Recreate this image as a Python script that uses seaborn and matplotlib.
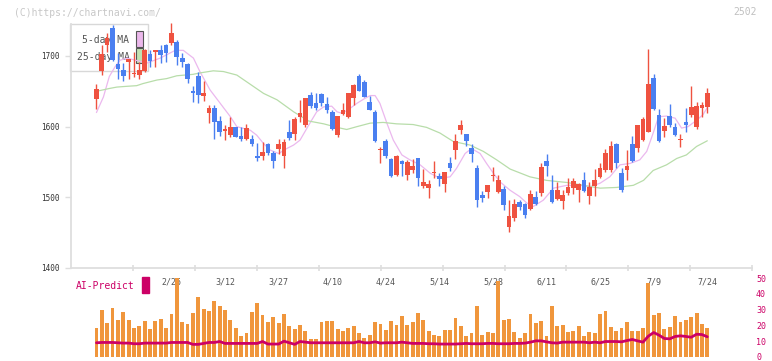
import matplotlib.pyplot as plt
import matplotlib.patches as mpatches
import seaborn as sns
import numpy as np
import pandas as pd

sns.set_theme(style='white')
plt.rcParams['font.family'] = ['DejaVu Sans Mono', 'DejaVu Sans']

# дневные свечи (open / high / low / close)
opens = [1639, 1679, 1716, 1740, 1689, 1680, 1692, 1674, 1673, 1679,
         1703, 1705, 1708, 1716, 1719, 1720, 1697, 1689, 1650, 1671,
         1644, 1620, 1626, 1608, 1594, 1588, 1599, 1587, 1583, 1583,
         1558, 1558, 1576, 1563, 1568, 1558, 1592, 1590, 1613, 1603,
         1645, 1634, 1646, 1632, 1621, 1588, 1618, 1614, 1640, 1671,
         1663, 1635, 1621, 1567, 1579, 1554, 1531, 1552, 1531, 1539,
         1555, 1516, 1513, 1534, 1530, 1519, 1549, 1567, 1595, 1590,
         1570, 1542, 1503, 1507, 1530, 1507, 1512, 1458, 1471, 1493,
         1491, 1483, 1501, 1506, 1552, 1510, 1497, 1495, 1506, 1513,
         1510, 1525, 1502, 1516, 1529, 1538, 1538, 1575, 1534, 1539,
         1575, 1570, 1581, 1593, 1669, 1616, 1594, 1615, 1599, 1581,
         1607, 1616, 1600, 1626, 1628]
highs = [1661, 1716, 1732, 1744, 1704, 1690, 1696, 1706, 1692, 1710,
         1709, 1708, 1716, 1717, 1746, 1723, 1704, 1690, 1657, 1678,
         1665, 1631, 1630, 1615, 1602, 1613, 1600, 1600, 1604, 1588,
         1577, 1579, 1577, 1565, 1582, 1582, 1609, 1614, 1638, 1641,
         1649, 1648, 1647, 1642, 1624, 1615, 1633, 1648, 1660, 1675,
         1666, 1644, 1624, 1571, 1583, 1556, 1560, 1553, 1553, 1554,
         1555, 1540, 1524, 1552, 1534, 1536, 1557, 1590, 1609, 1590,
         1576, 1546, 1509, 1517, 1543, 1531, 1516, 1496, 1497, 1496,
         1492, 1511, 1509, 1549, 1562, 1532, 1522, 1510, 1528, 1528,
         1520, 1536, 1522, 1540, 1549, 1568, 1580, 1577, 1542, 1567,
         1587, 1603, 1614, 1710, 1675, 1625, 1612, 1632, 1605, 1589,
         1626, 1658, 1635, 1635, 1655]
lows = [1625, 1673, 1705, 1693, 1668, 1664, 1668, 1670, 1667, 1677,
        1685, 1685, 1690, 1692, 1715, 1687, 1684, 1662, 1635, 1633,
        1637, 1605, 1582, 1587, 1581, 1586, 1585, 1580, 1581, 1572,
        1552, 1553, 1560, 1542, 1562, 1542, 1581, 1581, 1606, 1600,
        1626, 1623, 1629, 1620, 1595, 1585, 1617, 1612, 1631, 1650,
        1642, 1623, 1578, 1549, 1555, 1529, 1530, 1530, 1524, 1534,
        1516, 1513, 1499, 1527, 1516, 1508, 1537, 1554, 1590, 1572,
        1550, 1487, 1493, 1499, 1523, 1506, 1482, 1451, 1467, 1482,
        1471, 1482, 1489, 1502, 1530, 1492, 1496, 1483, 1504, 1505,
        1493, 1507, 1490, 1502, 1527, 1536, 1536, 1542, 1507, 1525,
        1550, 1564, 1580, 1592, 1624, 1578, 1586, 1599, 1587, 1571,
        1592, 1613, 1597, 1614, 1619]
closes = [1653, 1703, 1726, 1695, 1682, 1672, 1696, 1675, 1680, 1708,
          1693, 1708, 1702, 1704, 1732, 1698, 1691, 1667, 1647, 1645,
          1648, 1627, 1606, 1592, 1597, 1599, 1586, 1583, 1598, 1575,
          1556, 1564, 1563, 1552, 1575, 1578, 1584, 1611, 1620, 1640,
          1629, 1627, 1633, 1623, 1597, 1615, 1623, 1647, 1659, 1651,
          1642, 1624, 1579, 1568, 1558, 1530, 1559, 1547, 1550, 1544,
          1528, 1521, 1519, 1535, 1526, 1536, 1542, 1579, 1603, 1580,
          1561, 1496, 1499, 1517, 1531, 1524, 1489, 1474, 1491, 1487,
          1475, 1505, 1491, 1543, 1544, 1494, 1510, 1504, 1514, 1523,
          1519, 1509, 1515, 1525, 1541, 1563, 1573, 1548, 1511, 1544,
          1552, 1603, 1611, 1660, 1625, 1580, 1601, 1603, 1588, 1582,
          1603, 1628, 1629, 1630, 1648]

# скользящие средние (позиция свечи, цена)
ma5_x = [0, 1.3, 2.4, 3.5, 4.4, 5.7, 9.4, 11.9, 14.7, 16.2,
         18.1, 19.3, 21.2, 23.1, 25, 26.2, 28.7, 29.9, 31.2, 32.4,
         34, 35.5, 36.8, 38, 39.6, 41.1, 42.4, 43.9, 44.9, 45.8,
         47, 48.6, 50.1, 51.1, 52, 52.9, 54.2, 55.4, 57, 58.5,
         60.4, 62.3, 64.1, 66, 67.2, 68.8, 70, 71.6, 72.8, 74.1,
         75.3, 77.2, 79, 80.3, 81.5, 83.4, 85.3, 87.8, 90.2, 92.1,
         94, 95.8, 97.7, 99.6, 101.4, 102.7, 103.9, 104.9, 106.4, 108,
         109.2, 110.4, 112, 113.2, 114]
ma5_y = [1620, 1642, 1671, 1685, 1694, 1697, 1690, 1697, 1708, 1708,
         1697, 1678, 1652, 1633, 1614, 1600, 1595, 1588, 1576, 1567,
         1562, 1569, 1574, 1581, 1602, 1621, 1628, 1629, 1621, 1619,
         1624, 1633, 1640, 1644, 1644, 1633, 1605, 1581, 1560, 1553,
         1546, 1534, 1527, 1529, 1541, 1562, 1569, 1562, 1548, 1534,
         1522, 1510, 1501, 1492, 1487, 1496, 1513, 1517, 1517, 1515,
         1520, 1529, 1546, 1548, 1553, 1565, 1591, 1614, 1615, 1612,
         1598, 1600, 1609, 1617, 1627]
ma25_x = [0, 2.4, 3.8, 5.5, 7.5, 8.7, 11.3, 13.1, 15, 18,
          19.3, 21.8, 23.7, 26.2, 28.7, 31.2, 33.7, 36.8, 39.6, 42.4,
          44.9, 46.7, 48.6, 51.1, 53.5, 56, 59.1, 61.6, 64.1, 66.6,
          69.7, 72.2, 74.7, 77.2, 80.9, 84, 87.8, 90.9, 94, 97.1,
          100.2, 102.1, 103.9, 106.4, 108.3, 110.1, 112, 114]
ma25_y = [1650, 1654, 1656, 1657, 1658, 1661, 1666, 1668, 1672, 1674,
          1676, 1679, 1678, 1673, 1660, 1647, 1638, 1621, 1608, 1604,
          1599, 1596, 1600, 1605, 1606, 1604, 1603, 1599, 1591, 1579,
          1574, 1565, 1553, 1540, 1529, 1524, 1521, 1517, 1513, 1514,
          1517, 1524, 1538, 1546, 1555, 1560, 1572, 1580]

date_labels = ['2/26', '3/12', '3/27', '4/10', '4/24', '5/14',
               '5/28', '6/11', '6/25', '7/9', '7/24']
date_pos = [14, 24, 34, 44, 54, 64, 74, 84, 94, 104, 114]

# AI-Predict: столбцы и линия
ai_bars = [18.6, 29.9, 21.8, 31.2, 23.6, 28.2, 23.6, 18.6, 19.9, 23.0,
           18.0, 23.0, 24.3, 18.6, 27.4, 50.0, 22.4, 21.1, 28.0, 38.1,
           30.5, 29.3, 35.6, 32.4, 29.9, 23.6, 18.6, 13.0, 15.5, 28.7,
           34.3, 26.8, 22.4, 25.5, 21.8, 27.4, 19.9, 18.0, 20.5, 16.7,
           11.1, 11.7, 22.4, 23.0, 23.0, 18.0, 16.7, 18.6, 19.9, 15.5,
           12.3, 14.2, 22.4, 21.1, 17.4, 23.0, 20.5, 26.2, 20.5, 22.4,
           28.0, 23.6, 16.7, 14.2, 13.0, 17.4, 17.4, 24.9, 19.9, 13.0,
           15.5, 32.4, 14.2, 16.1, 14.9, 48.1, 23.6, 24.3, 16.1, 12.3,
           14.9, 27.4, 21.8, 23.0, 13.6, 32.4, 19.9, 20.5, 16.1, 16.7,
           19.9, 13.0, 16.1, 15.5, 27.4, 29.3, 19.2, 16.7, 18.6, 22.4,
           16.7, 16.7, 18.6, 46.9, 26.8, 28.0, 18.0, 19.2, 26.2, 22.4,
           23.6, 25.5, 28.0, 21.1, 18.6]
ai_line = [9.0, 9.2, 9.2, 9.2, 9.0, 8.8, 8.8, 8.4, 8.4, 8.8,
           8.8, 8.8, 8.8, 8.8, 9.2, 9.2, 9.2, 9.2, 8.0, 8.0,
           8.6, 9.2, 9.2, 9.8, 8.6, 8.6, 8.6, 8.6, 8.6, 8.6,
           8.6, 9.8, 8.2, 8.2, 8.2, 10.0, 9.0, 8.0, 9.8, 9.4,
           9.0, 9.0, 9.0, 9.0, 9.0, 9.0, 9.0, 9.0, 9.0, 9.8,
           9.0, 9.0, 9.6, 8.8, 9.0, 9.0, 9.0, 9.4, 9.0, 8.6,
           8.6, 8.6, 8.4, 8.4, 8.2, 8.2, 8.2, 8.2, 8.4, 8.6,
           8.4, 8.4, 8.4, 8.6, 8.6, 8.4, 8.4, 8.4, 8.6, 8.6,
           8.8, 9.4, 10.2, 10.2, 9.6, 9.0, 8.8, 9.4, 9.4, 9.4,
           9.4, 9.4, 9.0, 9.4, 9.0, 9.8, 9.8, 9.8, 9.6, 10.4,
           11.1, 10.2, 9.4, 13.2, 15.5, 13.8, 11.7, 11.5, 13.0, 13.4,
           13.0, 12.5, 14.4, 14.2, 12.8]

RED = '#ef5240'
BLUE = '#4a7ff0'
GRID = '#dedede'
MAGENTA = '#cc0066'

df = pd.DataFrame({'o': opens, 'h': highs, 'l': lows, 'c': closes})
df['i'] = np.arange(len(df))
colors = np.where(df.c >= df.o, RED, BLUE)

W, H = 772, 361
fig = plt.figure(figsize=(W / 100, H / 100), dpi=100)
xlim = (-4.75, 122.4)

ax = fig.add_axes([71 / W, 1 - 268 / H, (752.3 - 71) / W, 253 / H])
ax2 = fig.add_axes([71 / W, 4 / H, (752.3 - 71) / W, 79 / H])

# свечи
ax.vlines(df.i, df.l, df.h, colors=colors, lw=1.0, zorder=3)
body_lo = np.minimum(df.o, df.c)
body_h = np.maximum(np.abs(df.c - df.o), 1.8)
ax.bar(df.i, body_h, bottom=body_lo, width=0.87, color=colors, lw=0, zorder=4)

sns.lineplot(x=ma5_x, y=ma5_y, ax=ax, color='#ebb8ee', lw=0.9, zorder=2, legend=False)
sns.lineplot(x=ma25_x, y=ma25_y, ax=ax, color='#b8ddaa', lw=0.9, zorder=2, legend=False)

ax.set_xlim(*xlim)
ax.set_ylim(1400, 1758)
ax.set_yticks([1400, 1500, 1600, 1700])
ax.set_yticklabels(['1400', '1500', '1600', '1700'], fontsize=5.5, color='#333333')
ax.set_xticks(np.linspace(xlim[0], xlim[1], 12)[1:])
ax.set_xticklabels([])
ax.tick_params(axis='y', direction='out', length=4.3, width=1.0, color=GRID, pad=4, left=True)
ax.tick_params(axis='x', direction='inout', length=4, width=1.2, color=GRID, bottom=True)
for s in ['top', 'right']:
    ax.spines[s].set_visible(False)
for s in ['left', 'bottom']:
    ax.spines[s].set_color(GRID)
    ax.spines[s].set_linewidth(1.3)
ax.spines['left'].set_bounds(1400, 1745)
ax.set_facecolor('none')
ax.set_xlabel('')
ax.set_ylabel('')

# легенда средних
box = mpatches.Rectangle((70 / W, 1 - 71 / H), 78.3 / W, 47 / H, transform=fig.transFigure,
                         facecolor='white', edgecolor='#d8d8d8', lw=1.0, zorder=1, clip_on=False)
ax.add_patch(box)
ax.text(129.5 / W, 1 - 40 / H, '5-day MA', transform=fig.transFigure, ha='right', va='center',
        fontsize=7, color='#555555', zorder=1.5)
ax.text(129.5 / W, 1 - 56.7 / H, '25-day MA', transform=fig.transFigure, ha='right', va='center',
        fontsize=7, color='#555555', zorder=1.5)
ax.add_patch(mpatches.Rectangle((136 / W, 1 - 46.7 / H), 6.7 / W, 15.7 / H, transform=fig.transFigure,
                                facecolor='#ebb8eb', edgecolor='#555555', lw=0.8, zorder=1.5, clip_on=False))
ax.add_patch(mpatches.Rectangle((136 / W, 1 - 63.3 / H), 6.7 / W, 15 / H, transform=fig.transFigure,
                                facecolor='#c2e2b2', edgecolor='#555555', lw=0.8, zorder=1.5, clip_on=False))

# нижняя панель
ax2.bar(df.i, ai_bars, width=0.72, color='#f0963c', lw=0, zorder=2)
sns.lineplot(x=df.i, y=ai_line, ax=ax2, color=MAGENTA, lw=2.0, zorder=3, legend=False)
for lab, pos in zip(date_labels, date_pos):
    ax2.text(pos, 47.5, lab, ha='center', va='center', fontsize=6, color='#555555', zorder=1)
ax2.set_xlim(*xlim)
ax2.set_ylim(0, 50)
ax2.set_xticks([])
ax2.yaxis.tick_right()
ax2.set_yticks([0, 10, 20, 30, 40, 50])
ax2.set_yticklabels(['0', '10', '20', '30', '40', '50'], fontsize=6, color=MAGENTA)
ax2.tick_params(axis='y', length=0, pad=2.7)
ax2.set_xlabel('')
ax2.set_ylabel('')
for s in ax2.spines.values():
    s.set_visible(False)
ax2.set_facecolor('none')

fig.text(76 / W, 1 - 286 / H, 'AI-Predict', fontsize=7, color=MAGENTA, va='center')
fig.patches.append(mpatches.Rectangle((142 / W, 1 - 292.7 / H), 7 / W, 15.4 / H,
                                      transform=fig.transFigure, color=MAGENTA))
fig.text(14 / W, 1 - 12.7 / H, '(C)https://chartnavi.com/', fontsize=7, color='#c8c8c8', va='center')
fig.text(757 / W, 1 - 12 / H, '2502', fontsize=7, color='#c0c0c0', va='center', ha='right')

fig.savefig('out.png', dpi=100)
